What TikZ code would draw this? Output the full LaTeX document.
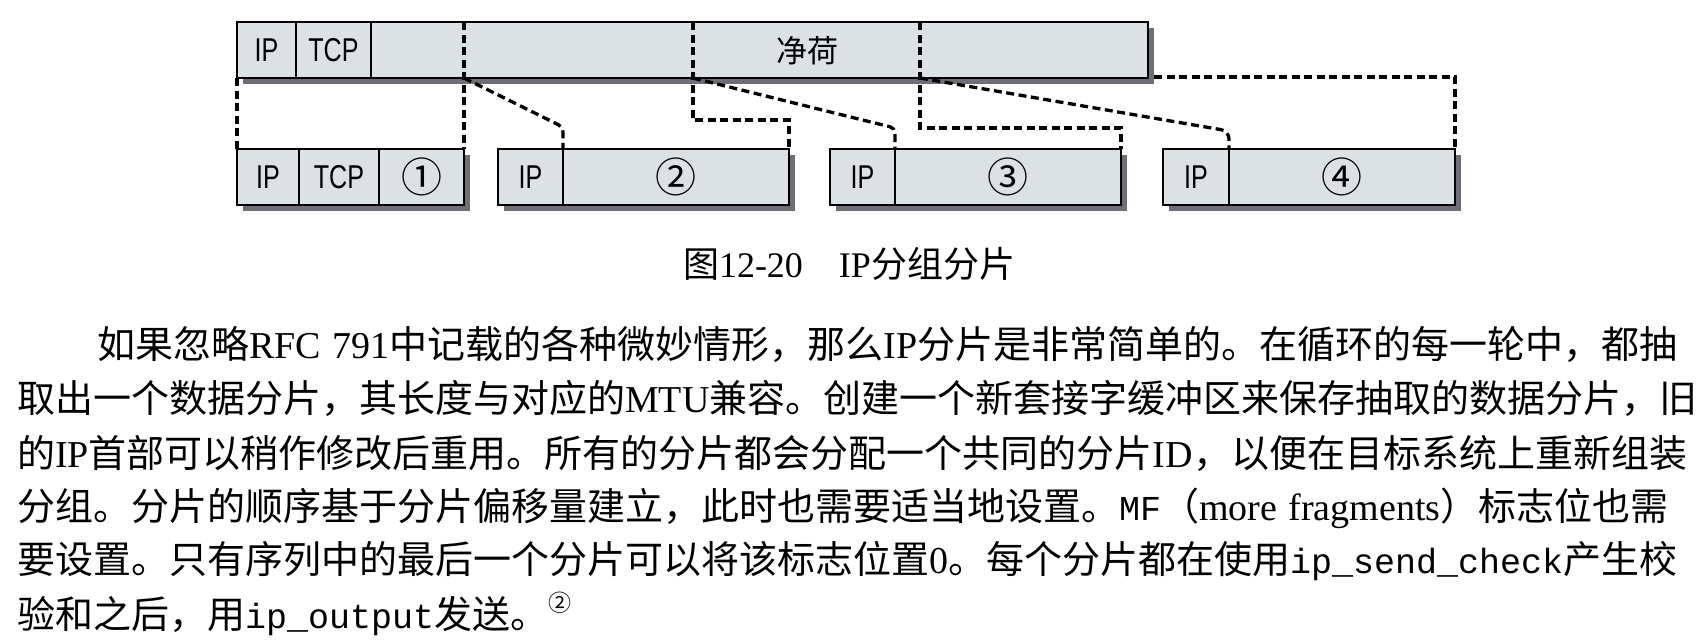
\documentclass[tikz,border=0pt]{standalone}
\usepackage{fontspec}
\setmainfont{Liberation Serif}
\setmonofont{Liberation Mono}
\newfontfamily\cjk{Noto Sans CJK SC}
\newfontfamily\cond[FakeStretch=0.76]{Liberation Sans}
\usetikzlibrary{shadows}
\XeTeXlinebreaklocale "zh"
\XeTeXlinebreakskip=0pt plus 4pt minus 0.5pt
\definecolor{pkfill}{RGB}{220,225,228}
\definecolor{shdw}{RGB}{110,110,116}
\newcommand\latn[1]{{\rmfamily #1}}
\newcommand\mon[1]{{\fontsize{35}{35}\ttfamily #1}}
\begin{document}
\begin{tikzpicture}[x=1pt,y=-1pt,
  pk/.style={draw=black, line width=2.2pt, fill=pkfill, outer sep=0pt, inner sep=0pt, anchor=north west,
    drop shadow={shadow xshift=6pt, shadow yshift=-6pt, opacity=1, fill=shdw}},
  dv/.style={line width=2pt},
  cn/.style={line width=3.3pt, dash pattern=on 8pt off 4.5pt},
  lab/.style={font=\cond\fontsize{33}{33}\selectfont, inner sep=0pt},
  num/.style={font=\cjk\fontsize{41}{41}\selectfont, inner sep=0pt},
  body/.style={anchor=base west, inner sep=0pt, font=\cjk\fontsize{38}{54}\selectfont}]
\useasboundingbox (0,0) rectangle (1700,641);
\fill[white] (0,0) rectangle (1700,641);

% original packet
\node[pk, minimum width=911pt, minimum height=56pt] (top) at (237,22) {};
\draw[dv] (296,22) -- (296,78);
\draw[dv] (371,22) -- (371,78);
\node[lab] (tip) at (266.5,50) {IP};
\node[lab] (ttcp) at (333.5,50) {TCP};
\node[font=\cjk\fontsize{31}{31}\selectfont, inner sep=0pt] (pay) at (807,51) {净荷};

% fragments
\node[pk, minimum width=227pt, minimum height=56pt] (f1) at (237,149) {};
\node[pk, minimum width=291pt, minimum height=56pt] (f2) at (498,149) {};
\node[pk, minimum width=291pt, minimum height=56pt] (f3) at (830,149) {};
\node[pk, minimum width=292pt, minimum height=56pt] (f4) at (1163,149) {};
\coordinate (g1a) at (299,149); \coordinate (g1b) at (379,149);
\coordinate (g2) at (563,149); \coordinate (g3) at (895,149); \coordinate (g4) at (1229,149);
\draw[dv] (g1a) -- (299,205);
\draw[dv] (g1b) -- (379,205);
\draw[dv] (g2) -- (563,205);
\draw[dv] (g3) -- (895,205);
\draw[dv] (g4) -- (1229,205);
\node[lab] (l1a) at (268,177) {IP};
\node[lab] (l1b) at (339,177) {TCP};
\node[num] (n1) at (421.5,177) {①};
\node[lab] (l2) at (530.5,177) {IP};
\node[num] (n2) at (676,177) {②};
\node[lab] (l3) at (862.5,177) {IP};
\node[num] (n3) at (1008,177) {③};
\node[lab] (l4) at (1196,177) {IP};
\node[num] (n4) at (1342,177) {④};

% split points
\coordinate (s1) at (464,22); \coordinate (s2) at (693,22); \coordinate (s3) at (920,22);
\coordinate (d1) at (464,78); \coordinate (d2) at (693,78); \coordinate (d3) at (920,78);
\coordinate (k1) at (563,127); \coordinate (k2) at (693,120);
\coordinate (k3) at (895,128); \coordinate (k4) at (920,128);
\coordinate (k5) at (1229,131); \coordinate (e0) at (1154,77);

\draw[cn] (top.south west) -- (f1.north west);
\draw[cn] (s1) -- (f1.north east);
\draw[cn, rounded corners=5pt] (d1) -- (k1) -- (g2);
\draw[cn] (s2) -- (k2) -| (f2.north east);
\draw[cn, rounded corners=5pt] (d2) -- (k3) -- (g3);
\draw[cn] (s3) -- (k4) -| (f3.north east);
\draw[cn, rounded corners=8pt] (d3) -- (k5) -- (g4);
\draw[cn] (e0) -| (f4.north east);

% caption
\node[anchor=base, inner sep=0pt, font=\cjk\fontsize{36}{36}\selectfont] (cap) at (849,277)
  {图\latn{12-20}\quad\latn{IP}分组分片};

% body text
\node[body] (t1) at (97,358) {\hbox to 1586pt{如果忽略\latn{RFC\hspace{0.3em}791}中记载的各种微妙情形，那么\latn{IP}分片是非常简单的。在循环的每一轮中，都抽}};
\node[body] (t2) at (17,412) {\hbox to 1666pt{取出一个数据分片，其长度与对应的\latn{MTU}兼容。创建一个新套接字缓冲区来保存抽取的数据分片，旧}};
\node[body] (t3) at (17,467) {\hbox to 1666pt{的\latn{IP}首部可以稍作修改后重用。所有的分片都会分配一个共同的分片\latn{ID}，以便在目标系统上重新组装}};
\node[body] (t4) at (17,520) {\hbox to 1666pt{分组。分片的顺序基于分片偏移量建立，此时也需要适当地设置。\mon{MF}（\latn{more\hspace{0.3em}fragments}）标志位也需}};
\node[body] (t5) at (17,573) {\hbox to 1666pt{要设置。只有序列中的最后一个分片可以将该标志位置\latn{0}。每个分片都在使用\mon{ip\_send\_check}产生校}};
\node[body] (t6) at (17,628) {验和之后，用\mon{ip\_output}发送。\raisebox{17pt}{\fontsize{23}{23}\selectfont ②}};
\end{tikzpicture}
\end{document}
